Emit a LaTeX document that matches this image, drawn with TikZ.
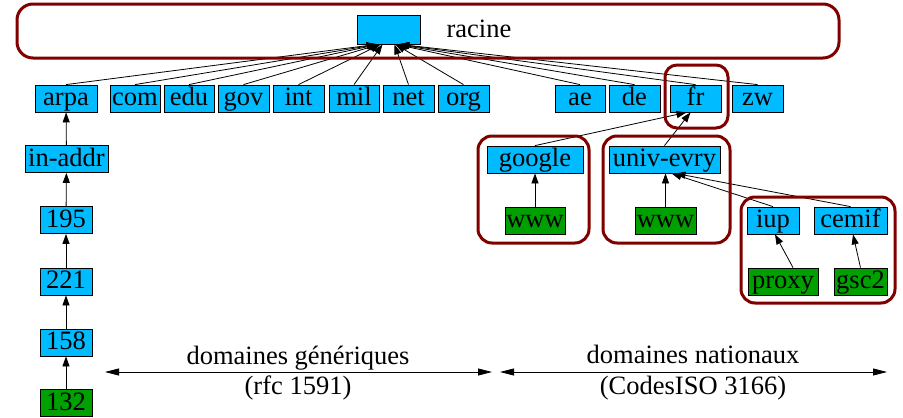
\documentclass[tikz,border=0pt]{standalone}
\usepackage{fontspec}
\setmainfont{Liberation Serif}
\newfontfamily\diagfont{Liberation Serif}
\usetikzlibrary{arrows.meta}
\definecolor{boxblue}{RGB}{0,187,255}
\definecolor{boxgreen}{RGB}{0,160,0}
\definecolor{clusterred}{RGB}{128,0,0}
\begin{document}
\begin{tikzpicture}[x=1pt,y=-1pt,
  font=\diagfont\fontsize{26.5}{30}\selectfont,
  dnode/.style={draw=black, line width=0.8pt, inner sep=0pt, minimum height=27pt, text height=20pt, text depth=6pt},
  bluebox/.style={dnode, fill=boxblue},
  greenbox/.style={dnode, fill=boxgreen},
  edge/.style={line width=0.8pt, -{Triangle[length=10pt,width=7pt]}},
  dimarrow/.style={line width=0.8pt, {Triangle[length=14pt,width=7pt]}-{Triangle[length=14pt,width=7pt]}},
  cluster/.style={draw=clusterred, line width=3pt, rounded corners=14pt}]
\useasboundingbox (0,0) rectangle (903,418);

% nodes
\node[bluebox, minimum width=63pt, minimum height=29pt] (root) at (388.5,29.5) {};
\node[anchor=base west] (racinelbl) at (443,37) {racine};

\node[bluebox, minimum width=62pt] (arpa) at (66,98.5) {arpa};
\node[bluebox, minimum width=50pt] (com) at (135,98.5) {com};
\node[bluebox, minimum width=50pt] (edu) at (189,98.5) {edu};
\node[bluebox, minimum width=51pt] (gov) at (243.5,98.5) {gov};
\node[bluebox, minimum width=51pt] (int) at (298.5,98.5) {int};
\node[bluebox, minimum width=50pt] (mil) at (354,98.5) {mil};
\node[bluebox, minimum width=51pt] (net) at (408.5,98.5) {net};
\node[bluebox, minimum width=51pt] (org) at (463.5,98.5) {org};
\node[bluebox, minimum width=50pt] (ae) at (580,98.5) {ae};
\node[bluebox, minimum width=51pt] (de) at (634.5,98.5) {de};
\node[bluebox, minimum width=51pt] (fr) at (695.5,98.5) {fr};
\node[bluebox, minimum width=51pt] (zw) at (757.5,98.5) {zw};

\node[bluebox, minimum width=96pt] (google) at (535,159.5) {google};
\node[bluebox, minimum width=111pt] (univ) at (664.5,159.5) {univ-evry};
\node[greenbox, minimum width=60pt] (www1) at (535,220.5) {www};
\node[greenbox, minimum width=61pt] (www2) at (665.5,220.5) {www};
\node[bluebox, minimum width=52pt] (iup) at (773,220.5) {iup};
\node[bluebox, minimum width=73pt] (cemif) at (850.5,220.5) {cemif};
\node[greenbox, minimum width=70pt] (proxy) at (783,281.5) {proxy};
\node[greenbox, minimum width=53pt] (gsc) at (860.5,281.5) {gsc2};

\node[bluebox, minimum width=83pt] (inaddr) at (66.5,159) {in-addr};
\node[bluebox, minimum width=52pt] (n195) at (66,220) {195};
\node[bluebox, minimum width=52pt] (n221) at (66,281.5) {221};
\node[bluebox, minimum width=52pt] (n158) at (66,342.5) {158};
\node[greenbox, minimum width=52pt] (n132) at (66,403) {132};

% edges to root
\draw[edge] (arpa.north) -- ([xshift=-12pt]root.south);
\draw[edge] (com.north) -- ([xshift=-11pt]root.south);
\draw[edge] (edu.north) -- ([xshift=-10pt]root.south);
\draw[edge] (gov.north) -- ([xshift=-9pt]root.south);
\draw[edge] (int.north) -- ([xshift=-8pt]root.south);
\draw[edge] (mil.north) -- ([xshift=-6pt]root.south);
\draw[edge] (net.north) -- ([xshift=6pt]root.south);
\draw[edge] (org.north) -- ([xshift=7pt]root.south);
\draw[edge] (ae.north) -- ([xshift=8pt]root.south);
\draw[edge] (de.north) -- ([xshift=9pt]root.south);
\draw[edge] (fr.north) -- ([xshift=10pt]root.south);
\draw[edge] (zw.north) -- ([xshift=11pt]root.south);

% national subtree
\draw[edge] (google.north) -- ([xshift=-9pt]fr.south);
\draw[edge] (univ.north) -- ([xshift=-5pt]fr.south);
\draw[edge] (www1) -- (google);
\draw[edge] (www2.north) -- ([xshift=1pt]univ.south);
\draw[edge] (iup.north) -- ([xshift=7pt]univ.south);
\draw[edge] (cemif.north) -- ([xshift=11pt]univ.south);
\draw[edge] ([xshift=10pt]proxy.north) -- ([xshift=2pt]iup.south);
\draw[edge] (gsc.north) -- ([xshift=2.5pt]cemif.south);

% arpa chain
\draw[edge] (inaddr) -- (arpa);
\draw[edge] (n195) -- (inaddr);
\draw[edge] (n221) -- (n195);
\draw[edge] (n158) -- (n221);
\draw[edge] (n132) -- (n158);

% clusters
\draw[cluster, rounded corners=16pt] (17,4) rectangle (839,58);
\draw[cluster, rounded corners=12pt] (665,65) rectangle (728,128);
\draw[cluster] (478,136) rectangle (589,243);
\draw[cluster] (603,136) rectangle (730,243);
\draw[cluster] (741,197) rectangle (895,303);

% bottom dimension arrows
\coordinate (g1) at (105,372);
\coordinate (g2) at (492,372);
\coordinate (n1) at (500,372);
\coordinate (n2) at (887,372);
\draw[dimarrow] (g1) -- (g2);
\draw[dimarrow] (n1) -- (n2);
\node[anchor=base] (gtxt) at (298,364) {domaines génériques};
\node[anchor=base] (grfc) at (298,394) {(rfc 1591)};
\node[anchor=base] (ntxt) at (693,363) {domaines nationaux};
\node[anchor=base] (niso) at (693,394) {(CodesISO 3166)};
\end{tikzpicture}
\end{document}
